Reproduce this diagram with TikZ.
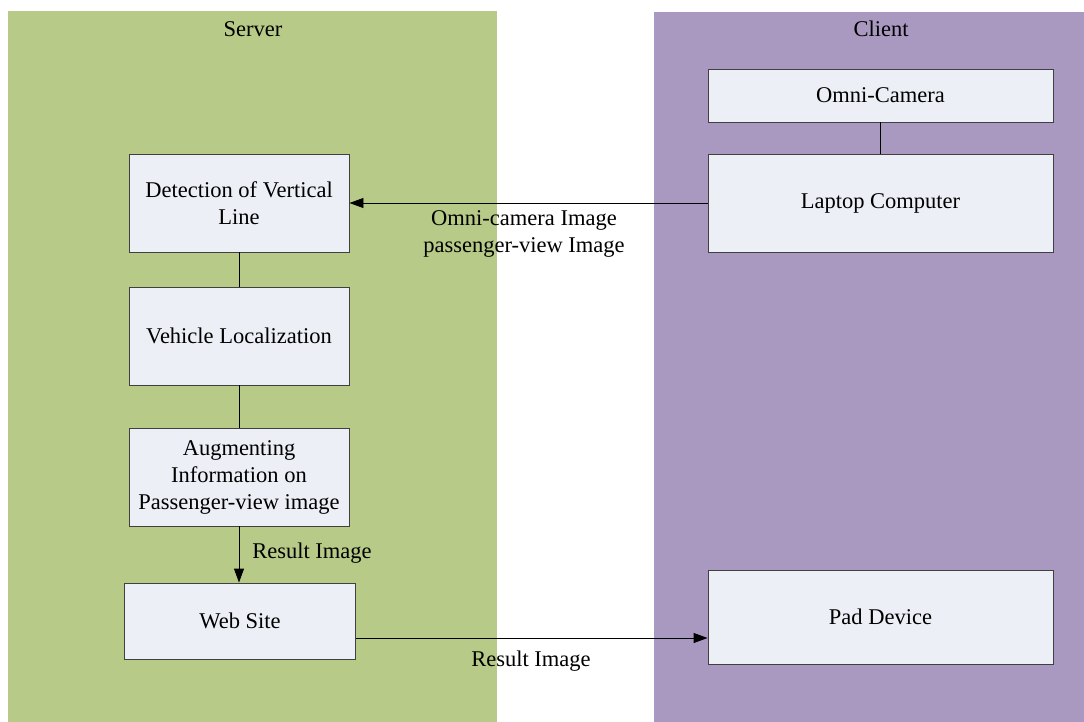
\documentclass[tikz,border=0pt]{standalone}
\usepackage{fontspec}
\setmainfont{Liberation Serif}
\usetikzlibrary{arrows.meta,calc}
\definecolor{servergreen}{HTML}{B7CA87}
\definecolor{clientpurple}{HTML}{A999C1}
\definecolor{boxfill}{HTML}{ECEFF5}
\definecolor{boxline}{HTML}{404040}
\tikzset{
  stage/.style={draw=boxline, fill=boxfill, line width=0.9pt, inner sep=0pt,
    align=center, font=\fontsize{22.5}{27}\selectfont},
  link/.style={draw=black, line width=0.9pt},
  flow/.style={link, -{Triangle[length=14pt,width=10pt]}},
  lbl/.style={font=\fontsize{22.5}{27}\selectfont, align=center, inner sep=0pt}
}
\begin{document}
\begin{tikzpicture}[x=1pt,y=-1pt]
\useasboundingbox (0,0) rectangle (1084,722);
\fill[white] (0,0) rectangle (1084,722);
% side panels
\fill[servergreen] (8,11) rectangle (497,722);
\fill[clientpurple] (654,12) rectangle (1084,722);
\node[lbl] (serverlbl) at (253,29) {Server};
\node[lbl] (clientlbl) at (881,29) {Client};

% server stages
\node[stage, minimum width=220pt, minimum height=98pt] (detect) at (239,203)
  {Detection of Vertical\\Line};
\node[stage, minimum width=220pt, minimum height=98pt] (vehicle) at (239,336)
  {Vehicle Localization};
\node[stage, minimum width=220pt, minimum height=98pt] (augment) at (239,477)
  {Augmenting\\Information on\\Passenger-view image};
\node[stage, minimum width=231pt, minimum height=76pt] (web) at (240,621)
  {Web Site};

% client devices
\node[stage, minimum width=345pt, minimum height=53pt] (camera) at (880.5,95.5)
  {Omni-Camera};
\node[stage, minimum width=345pt, minimum height=98pt] (laptop) at (880.5,203)
  {Laptop Computer};
\node[stage, minimum width=345pt, minimum height=94pt] (pad) at (880.5,617)
  {Pad Device};

% connections
\draw[link] (detect) -- (vehicle);
\draw[link] (vehicle) -- (augment);
\draw[link] (camera) -- (laptop);
\draw[flow] (laptop.west) -- (detect.east);
\draw[flow] (augment.south) -- (augment.south |- web.north);
\coordinate (webout) at ([yshift=-17pt]web.east);
\draw[flow] (webout) -- (webout -| pad.west);

% connector labels
\node[lbl] (imgs) at (524,234) {Omni-camera Image\\passenger-view Image};
\node[lbl] (res1) at (312,553) {Result Image};
\node[lbl] (res2) at (531,661) {Result Image};
\end{tikzpicture}
\end{document}
